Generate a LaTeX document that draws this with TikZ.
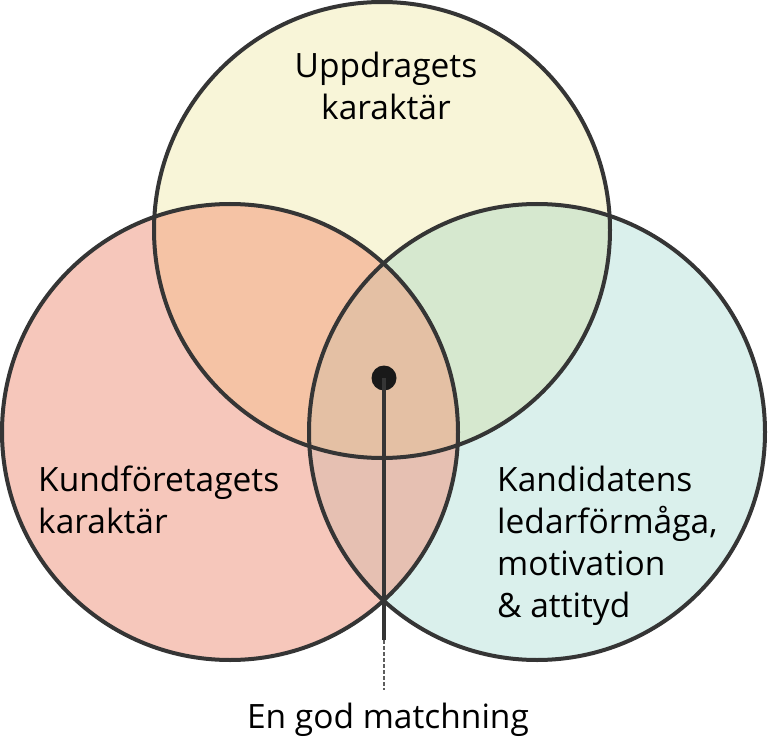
\documentclass[tikz,border=0pt]{standalone}
\usepackage{fontspec}
\setmainfont{Open Sans}
\definecolor{cyel}{HTML}{F8F5D8}
\definecolor{cpink}{HTML}{F6C7BB}
\definecolor{cteal}{HTML}{DAF0EC}
\definecolor{ctl}{HTML}{F5C3A5}
\definecolor{ctr}{HTML}{D6E8CF}
\definecolor{clr}{HTML}{E6C0B2}
\definecolor{call}{HTML}{E4C0A4}
\definecolor{ink}{HTML}{353535}
\tikzset{
  ring/.style={circle, draw=ink, line width=4pt, minimum size=456pt, inner sep=0pt},
  lbl/.style={font=\fontsize{33.5}{42}\selectfont, inner sep=0pt, text=black},
}
\begin{document}
\begin{tikzpicture}[x=1pt,y=-1pt]
\useasboundingbox (0,0) rectangle (768,738);
\coordinate (ct) at (382,230);
\coordinate (cl) at (230,432);
\coordinate (cr) at (537,432);
% fills
\fill[cyel]  (ct) circle[radius=228pt];
\fill[cpink] (cl) circle[radius=228pt];
\fill[cteal] (cr) circle[radius=228pt];
\begin{scope}
  \clip (cl) circle[radius=228pt];
  \fill[clr] (cr) circle[radius=228pt];
\end{scope}
\begin{scope}
  \clip (ct) circle[radius=228pt];
  \fill[ctl] (cl) circle[radius=228pt];
  \fill[ctr] (cr) circle[radius=228pt];
  \clip (cl) circle[radius=228pt];
  \fill[call] (cr) circle[radius=228pt];
\end{scope}
% outlines
\node[ring] (top) at (ct) {};
\node[ring] (left) at (cl) {};
\node[ring] (right) at (cr) {};
% match marker
\node[circle, fill=black!90, minimum size=25pt, inner sep=0pt] (dot) at (384,378) {};
\coordinate (mid) at (384,640);
\coordinate (end) at (384,690);
\draw[ink, line width=4pt] (dot.center) -- (mid);
\draw[ink!80, line width=2pt, dash pattern=on 4pt off 2pt] (mid) -- (end);
% labels
\node[lbl, align=center, anchor=base] (tt) at (386,120) {Uppdragets\\karaktär};
\node[lbl, align=left, anchor=base west] (lt) at (38,533) {Kundföretagets\\karaktär};
\node[lbl, align=left, anchor=base west] (rt) at (497,617) {Kandidatens\\ledarförmåga,\\motivation\\\& attityd};
\node[lbl, anchor=base] (bt) at (388,728) {En god matchning};
\end{tikzpicture}
\end{document}
